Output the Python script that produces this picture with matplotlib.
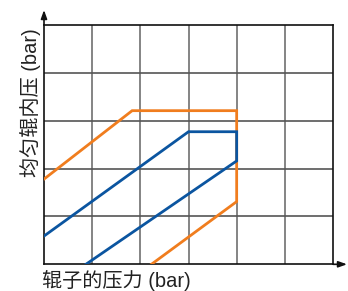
import matplotlib
matplotlib.use("Agg")
import matplotlib.pyplot as plt

# data (polylines in grid units)
orange_x = [0, 1.83, 4.0, 4.0, 2.23]
orange_y = [1.78, 3.21, 3.21, 1.31, 0]
blue_x = [0, 3.0, 4.0, 4.0, 0.87]
blue_y = [0.59, 2.77, 2.77, 2.16, 0]
x_grid = [0, 1, 2, 3, 4, 5, 6]
y_grid = [0, 1, 2, 3, 4, 5]
x_label = "辊子的压力 (bar)"
y_label = "均匀辊内压 (bar)"

W, H = 348, 291
fig = plt.figure(figsize=(W / 100, H / 100), dpi=100)
L, R, T, B = 44, 333, 25, 264.3
ax = fig.add_axes([L / W, (H - B) / H, (R - L) / W, (B - T) / H])
ax.set_xlim(0, 6)
ax.set_ylim(0, 5)

for xv in x_grid[1:-1]:
    ax.axvline(xv, color="#707070", lw=1.2, zorder=1)
for yv in y_grid[1:-1]:
    ax.axhline(yv, color="#555555", lw=1.2, zorder=1)

for s in ax.spines.values():
    s.set_color("#111111")
    s.set_linewidth(1.2)

ax.set_xticks([])
ax.set_yticks([])

ax.plot(orange_x, orange_y, color="#F07D1E", lw=2.0, solid_joinstyle="miter", zorder=3)
ax.plot(blue_x, blue_y, color="#0B55A0", lw=2.0, solid_joinstyle="miter", zorder=4)

# arrows
ax.annotate("", xy=(0, 1 + 15 / (B - T)), xytext=(0, 1), xycoords="axes fraction",
            arrowprops=dict(arrowstyle="-|>,head_length=0.5,head_width=0.18", color="#111111", lw=1.2,
                            shrinkA=0, shrinkB=0), annotation_clip=False)
ax.annotate("", xy=(1 + 14 / (R - L), 0), xytext=(1, 0), xycoords="axes fraction",
            arrowprops=dict(arrowstyle="-|>,head_length=0.5,head_width=0.18", color="#111111", lw=1.2,
                            shrinkA=0, shrinkB=0), annotation_clip=False)

fam = ["Liberation Sans", "Noto Sans CJK SC"]
fig.text(42 / W, 1 - 281 / H, x_label, ha="left", va="center", fontsize=14.5,
         family=fam, color="#222222")
fig.text(31 / W, 1 - 103 / H, y_label, ha="center", va="center", rotation=90,
         fontsize=14.5, family=fam, color="#222222")

fig.savefig("out.png", dpi=100)
